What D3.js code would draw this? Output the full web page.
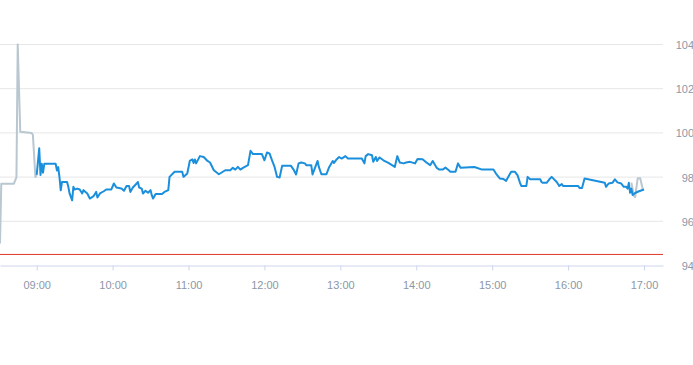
<!DOCTYPE html>
<html>
<head>
<meta charset="utf-8">
<script src="https://cdn.jsdelivr.net/npm/d3@7"></script>
<style>
  body { margin: 0; background: #fff; }
  svg { display: block; font-family: "Liberation Sans", Arial, sans-serif; }
</style>
</head>
<body>
<div id="chart"></div>
<script>
// pre-market trades (grey)
const preMarket = [
  ['08:31', 95.0], ['08:32', 97.7], ['08:42', 97.7], ['08:43', 97.85], ['08:44', 98.0],
  ['08:45', 104.0], ['08:47', 100.05], ['08:56', 100.0], ['08:57', 99.9], ['08:59', 98.0],
  ['09:00', 98.1]
];

// regular session (blue)
const session = [
  ['09:00', 98.1], ['09:02', 99.3], ['09:03', 98.1], ['09:04', 98.6], ['09:05', 98.2],
  ['09:06', 98.6], ['09:15', 98.6], ['09:16', 98.3], ['09:17', 98.45], ['09:18', 98.0],
  ['09:19', 97.4], ['09:20', 97.78], ['09:24', 97.78], ['09:25', 97.56], ['09:26', 97.26],
  ['09:28', 96.95], ['09:29', 97.56], ['09:30', 97.44], ['09:32', 97.48], ['09:34', 97.44],
  ['09:36', 97.26], ['09:37', 97.41], ['09:40', 97.26], ['09:42', 97.03], ['09:45', 97.14],
  ['09:47', 97.33], ['09:48', 97.08], ['09:50', 97.26], ['09:53', 97.36], ['09:55', 97.44],
  ['09:59', 97.44], ['10:01', 97.71], ['10:03', 97.53], ['10:07', 97.48], ['10:09', 97.38],
  ['10:11', 97.6], ['10:13', 97.6], ['10:14', 97.33], ['10:16', 97.53], ['10:19', 97.71],
  ['10:20', 97.78], ['10:21', 97.53], ['10:23', 97.48], ['10:24', 97.26], ['10:26', 97.38],
  ['10:28', 97.29], ['10:30', 97.41], ['10:31', 97.17], ['10:32', 97.03], ['10:34', 97.23],
  ['10:39', 97.23], ['10:41', 97.33], ['10:44', 97.41], ['10:45', 98.01], ['10:49', 98.24],
  ['10:55', 98.24], ['10:56', 98.01], ['10:59', 98.16], ['11:01', 98.73], ['11:03', 98.8],
  ['11:04', 98.64], ['11:05', 98.8], ['11:06', 98.62], ['11:09', 98.95], ['11:12', 98.91],
  ['11:15', 98.73], ['11:17', 98.66], ['11:20', 98.31], ['11:24', 98.13], ['11:29', 98.31],
  ['11:33', 98.31], ['11:35', 98.42], ['11:37', 98.34], ['11:39', 98.46], ['11:41', 98.34],
  ['11:43', 98.42], ['11:47', 98.54], ['11:49', 99.19], ['11:51', 99.04], ['11:58', 99.04],
  ['12:00', 98.76], ['12:02', 99.11], ['12:04', 99.07], ['12:06', 98.76], ['12:08', 98.46],
  ['12:10', 98.01], ['12:12', 97.98], ['12:14', 98.51], ['12:21', 98.51], ['12:23', 98.34],
  ['12:25', 98.12], ['12:27', 98.62], ['12:29', 98.66], ['12:32', 98.62], ['12:33', 98.54],
  ['12:37', 98.54], ['12:38', 98.12], ['12:40', 98.43], ['12:42', 98.73], ['12:43', 98.46],
  ['12:45', 98.13], ['12:49', 98.13], ['12:51', 98.43], ['12:54', 98.73], ['12:55', 98.64],
  ['12:57', 98.8], ['12:59', 98.91], ['13:01', 98.84], ['13:04', 98.95], ['13:06', 98.84],
  ['13:17', 98.84], ['13:19', 98.62], ['13:20', 98.95], ['13:22', 99.04], ['13:25', 98.99],
  ['13:26', 98.69], ['13:28', 98.91], ['13:29', 98.73], ['13:31', 98.89], ['13:34', 98.76],
  ['13:38', 98.64], ['13:43', 98.46], ['13:45', 98.95], ['13:47', 98.66], ['13:50', 98.62],
  ['13:52', 98.66], ['13:55', 98.69], ['13:59', 98.62], ['14:01', 98.82], ['14:05', 98.81],
  ['14:08', 98.66], ['14:11', 98.54], ['14:13', 98.73], ['14:16', 98.43], ['14:18', 98.34],
  ['14:21', 98.34], ['14:23', 98.43], ['14:25', 98.34], ['14:27', 98.24], ['14:31', 98.24],
  ['14:33', 98.62], ['14:35', 98.42], ['14:46', 98.46], ['14:52', 98.34], ['15:01', 98.34],
  ['15:03', 98.16], ['15:06', 97.94], ['15:09', 97.91], ['15:11', 97.83], ['15:12', 97.94],
  ['15:15', 98.24], ['15:18', 98.24], ['15:20', 98.09], ['15:22', 97.74], ['15:23', 97.6],
  ['15:27', 97.6], ['15:28', 98.01], ['15:30', 97.9], ['15:38', 97.9], ['15:39', 97.78],
  ['15:40', 97.74], ['15:43', 97.74], ['15:45', 97.89], ['15:47', 98.01], ['15:51', 97.78],
  ['15:53', 97.6], ['15:55', 97.68], ['15:56', 97.6], ['16:08', 97.6], ['16:09', 97.51],
  ['16:11', 97.51], ['16:13', 97.94], ['16:29', 97.74], ['16:30', 97.56], ['16:32', 97.71],
  ['16:35', 97.74], ['16:37', 97.9], ['16:39', 97.76], ['16:42', 97.71], ['16:44', 97.56],
  ['16:46', 97.56], ['16:47', 97.48], ['16:48', 97.74], ['16:49', 97.29], ['16:50', 97.48],
  ['16:51', 97.19], ['16:53', 97.28], ['16:56', 97.36], ['17:00', 97.44]
];

// closing auction ticks (grey)
const closing = [
  ['16:50', 97.75], ['16:52', 97.15], ['16:53', 97.1], ['16:55', 97.95], ['16:57', 97.95],
  ['16:59', 97.45]
];

const refLevel = 94.5;
const yTicks = [94, 96, 98, 100, 102, 104];
const xTicks = ['09:00', '10:00', '11:00', '12:00', '13:00', '14:00', '15:00', '16:00', '17:00'];

const W = 693, H = 365;
const plotRight = 663;
const parse = d3.timeParse('%H:%M');

const x = d3.scaleTime()
  .domain([parse('08:31'), parse('17:15')])
  .range([0, plotRight]);

const y = d3.scaleLinear()
  .domain([94, 104])
  .range([265.5, 44.5]);

const svg = d3.select('#chart').append('svg')
    .attr('width', W)
    .attr('height', H);

// grid
svg.append('g')
  .selectAll('line')
  .data(yTicks.slice(1))
  .join('line')
    .attr('x1', 0)
    .attr('x2', plotRight)
    .attr('y1', d => y(d))
    .attr('y2', d => y(d))
    .attr('stroke', '#e6e6e6')
    .attr('stroke-width', 1);

// y labels on the right
svg.append('g')
  .selectAll('text')
  .data(yTicks)
  .join('text')
    .attr('x', 694)
    .attr('y', d => y(d) + 4.5)
    .attr('text-anchor', 'end')
    .attr('font-size', 11)
    .attr('fill', '#8c97a7')
    .text(d => d);

// x axis
const xAxis = svg.append('g')
    .attr('transform', `translate(0,${y(94)})`)
    .call(d3.axisBottom(x)
      .tickValues(xTicks.map(parse))
      .tickFormat(d3.timeFormat('%H:%M'))
      .tickSize(5)
      .tickSizeOuter(0)
      .tickPadding(11));

xAxis.select('.domain').attr('stroke', '#ccd6eb');
xAxis.selectAll('.tick line').attr('stroke', '#ccd6eb');
xAxis.selectAll('.tick text')
    .attr('fill', '#8c97a7')
    .attr('font-size', 11)
    .attr('font-family', '"Liberation Sans", Arial, sans-serif');

// reference level
svg.append('line')
    .attr('x1', 0)
    .attr('x2', plotRight)
    .attr('y1', y(refLevel))
    .attr('y2', y(refLevel))
    .attr('stroke', '#e0392f')
    .attr('stroke-width', 1);

const line = d3.line()
  .x(d => x(parse(d[0])))
  .y(d => y(d[1]));

svg.append('path')
    .datum(preMarket)
    .attr('d', line)
    .attr('fill', 'none')
    .attr('stroke', '#b9c7d0')
    .attr('stroke-width', 2)
    .attr('stroke-linejoin', 'round');

svg.append('path')
    .datum(closing)
    .attr('d', line)
    .attr('fill', 'none')
    .attr('stroke', '#b9c7d0')
    .attr('stroke-width', 2)
    .attr('stroke-linejoin', 'round');

svg.append('path')
    .datum(session)
    .attr('d', line)
    .attr('fill', 'none')
    .attr('stroke', '#1b8fdb')
    .attr('stroke-width', 2)
    .attr('stroke-linejoin', 'round');
</script>
</body>
</html>
